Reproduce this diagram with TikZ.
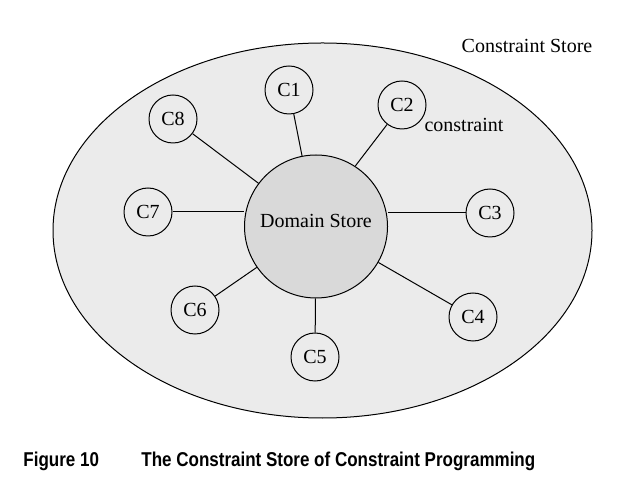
\documentclass[tikz,border=0pt]{standalone}
\usepackage{fontspec}
\setmainfont{Liberation Serif}
\newfontfamily\capfont[FakeStretch=0.85]{Liberation Sans}
\definecolor{storegris}{HTML}{EBEBEB}
\definecolor{domgris}{HTML}{D9D9D9}

\begin{document}
\begin{tikzpicture}[x=0.5pt, y=-0.5pt]
\tikzset{cnoeud/.style={draw, circle, minimum size=24pt, inner sep=0pt, line width=0.5pt}}
\tikzset{dnoeud/.style={draw, circle, minimum size=71.5pt, inner sep=0pt, line width=0.5pt, fill=domgris}}
\useasboundingbox (0, 0) rectangle (641, 485);
\draw[line width=0.5pt, fill=storegris] (322.5, 230.5) ellipse (134.75pt and 93.75pt);
\node (CS) at (527, 46) {Constraint Store};
\node[dnoeud] (DS) at (316, 226.5) {};
\node (DST) at (316, 221) {Domain Store};
\node[cnoeud] (C1) at (289, 90) {C1};
\node[cnoeud] (C2) at (402, 105) {C2};
\node[cnoeud] (C3) at (490, 213) {C3};
\node[cnoeud] (C4) at (473, 317) {C4};
\node[cnoeud] (C5) at (315, 357) {C5};
\node[cnoeud] (C6) at (195, 310) {C6};
\node[cnoeud] (C7) at (148, 212) {C7};
\node[cnoeud] (C8) at (173, 119) {C8};
\node (CT) at (464, 125) {constraint};
\draw[line width=0.5pt] (C1) -- (DS);
\draw[line width=0.5pt] (C2) -- (DS.57);
\draw[line width=0.5pt] (C3) -- (DS.east |- C3);
\draw[line width=0.5pt] (C4) -- (DS);
\draw[line width=0.5pt] (C5) -- (DS);
\draw[line width=0.5pt] (C6) -- (DS);
\draw[line width=0.5pt] (C7) -- (DS.west |- C7);
\draw[line width=0.5pt] (C8) -- (DS);
\node[anchor=base west, inner sep=0pt] (FIG) at (23, 466) {\capfont\bfseries Figure 10};
\node[anchor=base west, inner sep=0pt] (TIT) at (141, 466) {\capfont\bfseries The Constraint Store of Constraint Programming};
\end{tikzpicture}
\end{document}
